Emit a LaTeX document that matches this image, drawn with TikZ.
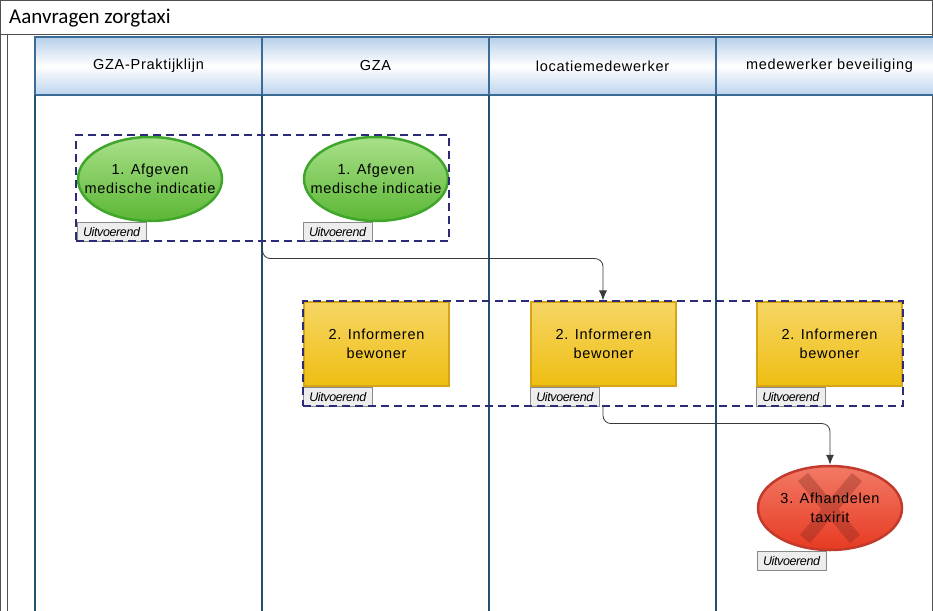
\documentclass[tikz,border=0pt]{standalone}
\usepackage{fontspec}
\setmainfont{Liberation Sans}[LetterSpace=5]
\newfontfamily\titlefont{Carlito}
\usetikzlibrary{shapes.geometric,arrows.meta,positioning}
\definecolor{framecol}{HTML}{505050}
\definecolor{headedge}{HTML}{3B6C98}
\definecolor{headtop}{HTML}{B7CFEA}
\definecolor{headbot}{HTML}{BDD3EE}
\definecolor{lanecol}{HTML}{24506F}
\definecolor{greenlight}{HTML}{A9E08A}
\definecolor{greendark}{HTML}{5BB734}
\definecolor{greenedge}{HTML}{3FA62B}
\definecolor{yellowlight}{HTML}{F6D665}
\definecolor{yellowfill}{HTML}{EFBE12}
\definecolor{yellowedge}{HTML}{D7A514}
\definecolor{redlight}{HTML}{F27A66}
\definecolor{redfill}{HTML}{E73A22}
\definecolor{rededge}{HTML}{C23A2C}
\definecolor{groupcol}{HTML}{2B2B78}
\definecolor{tagfill}{HTML}{EDEDED}
\definecolor{taggray}{HTML}{8A8A8A}
\definecolor{flowcol}{HTML}{3A3A3A}
\tikzset{
	lanehead/.style={draw=headedge,line width=1.2pt,minimum width=227pt,minimum height=58pt,inner sep=0pt,top color=headtop,bottom color=headbot,middle color=white,font=\fontsize{14.5}{19}\selectfont},
	laneline/.style={draw=lanecol,line width=1.3pt},
	startoval/.style={ellipse,draw=greenedge,line width=2.5pt,top color=greenlight,bottom color=greendark,minimum width=144pt,minimum height=84pt,inner sep=0pt},
	taskbox/.style={rectangle,draw=yellowedge,line width=2pt,top color=yellowlight,bottom color=yellowfill,minimum width=145pt,minimum height=84pt,inner sep=0pt,align=center,font=\fontsize{14.5}{19}\selectfont},
	endoval/.style={ellipse,draw=rededge,line width=2.5pt,top color=redlight,bottom color=redfill,minimum width=144pt,minimum height=84pt,inner sep=0pt},
	tasktext/.style={align=center,inner sep=0pt,font=\fontsize{14.5}{19}\selectfont},
	statetag/.style={draw=taggray,fill=tagfill,line width=0.6pt,minimum width=69pt,minimum height=19pt,inner sep=0pt,anchor=north west,font=\fontsize{12.5}{14}\selectfont\itshape\addfontfeature{LetterSpace=-3}},
	groupbox/.style={draw=groupcol,line width=1.1pt,dash pattern=on 8pt off 5pt,inner sep=0pt},
	flow/.style={draw=flowcol,line width=0.8pt,rounded corners=8pt,-{Latex[length=10pt,width=8pt]}}
}
\begin{document}
\begin{tikzpicture}[x=1pt,y=-1pt]
	\useasboundingbox (0,0) rectangle (933,610);
	\clip (0,0) rectangle (933,610);
	% pool frame
	\draw[framecol,line width=1pt] (0.5,0.5) rectangle (932.5,640);
	\draw[framecol,line width=1pt] (0.5,35) -- (932.5,35);
	\draw[framecol,line width=0.8pt] (7,35) -- (7,640);
	\node[anchor=west,inner sep=0pt,font=\titlefont\fontsize{21}{24}\selectfont] (title) at (9,18) {Aanvragen zorgtaxi};

	% lanes
	\node[lanehead] (h1) at (148.5,66) {GZA-Praktijklijn};
	\node[lanehead] (h2) at (375.5,66) {GZA};
	\node[lanehead] (h3) at (602.5,66) {locatiemedewerker};
	\node[lanehead] (h4) at (829.5,66) {medewerker beveiliging};
	\foreach \lx in {35,262,489,716,943}
		\draw[laneline] (\lx,95) -- (\lx,640);

	% step 1
	\node[startoval] (t1a) at (150,179) {};
	\node[tasktext] at (t1a.center) {1. Afgeven\\medische indicatie};
	\node[startoval] (t1b) at (376,179) {};
	\node[tasktext] at (t1b.center) {1. Afgeven\\medische indicatie};
	\node[statetag] (s1a) at (t1a.west |- t1a.south) {Uitvoerend};
	\node[statetag] (s1b) at (t1b.west |- t1b.south) {Uitvoerend};
	\node[groupbox,minimum width=373pt,minimum height=106pt] (grp1) at (262.5,188) {};

	% step 2
	\node[taskbox] (t2a) at (376.5,344) {2. Informeren\\bewoner};
	\node[taskbox] (t2b) at (603.5,344) {2. Informeren\\bewoner};
	\node[taskbox] (t2c) at (829.5,344) {2. Informeren\\bewoner};
	\node[statetag] (s2a) at (t2a.south west) {Uitvoerend};
	\node[statetag] (s2b) at (t2b.south west) {Uitvoerend};
	\node[statetag] (s2c) at (t2c.south west) {Uitvoerend};
	\node[groupbox,minimum width=600pt,minimum height=105pt] (grp2) at (603,353.5) {};

	% step 3
	\node[endoval] (taxi) at (830,508) {};
	\draw[rededge!60!black,opacity=0.3,line width=13pt]
		([shift={(-27,-31)}]taxi.center) -- ([shift={(25,31)}]taxi.center)
		([shift={(27,-31)}]taxi.center) -- ([shift={(-25,31)}]taxi.center);
	\node[tasktext] (taxitxt) at (taxi.center) {3. Afhandelen\\taxirit};
	\node[statetag] (s3) at (taxi.west |- taxi.south) {Uitvoerend};

	% flows
	\draw[flow] (grp1.south) -- ++(0,17) -| (grp2.north);
	\draw[flow] (grp2.south) -- ++(0,17) -| (taxi.north);
\end{tikzpicture}
\end{document}
